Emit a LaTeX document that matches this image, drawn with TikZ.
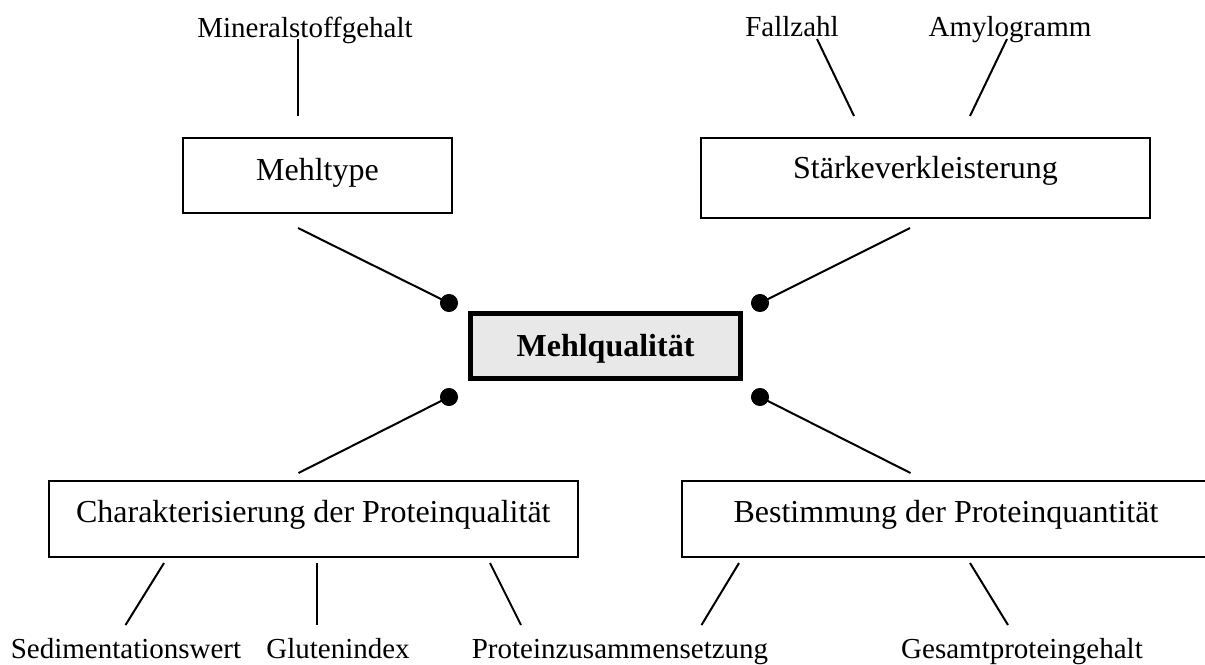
\documentclass[tikz,border=0pt]{standalone}
\usepackage{fontspec}
\setmainfont{Liberation Serif}
\begin{document}
\begin{tikzpicture}[x=0.75pt,y=-0.75pt,
  box/.style={draw, line width=1.5pt, rectangle, inner sep=0pt,
    font=\fontsize{24}{28}\selectfont, text height=16.8pt},
  leaf/.style={inner sep=0pt, anchor=base, font=\fontsize{21.75}{26}\selectfont},
  link/.style={line width=1.5pt},
  dot/.style={circle, fill=black, inner sep=0pt, minimum size=13.3pt},
  core/.style={draw, line width=4pt, inner sep=0pt, fill=black!9,
    font=\bfseries\fontsize{24}{28}\selectfont,
    minimum width=202.25pt, minimum height=48.5pt,
    text height=16.8pt, text depth=1.8pt}]
\useasboundingbox (0,0) rectangle (1205,664);

% central node with a speckled paper texture
\pgfmathsetseed{4711}
\node[core, path picture={
    \foreach \k in {1,...,520}{
      \fill[white, opacity=0.85] ({470+271*rnd},{313+66*rnd}) circle (1.3pt);
    }
    \foreach \k in {1,...,360}{
      \fill[black!22] ({470+271*rnd},{313+66*rnd}) circle (0.6pt);
    }
  }] (core) at (605.5,346) {Mehlqualität};

% corner dots
\node[dot] (dTL) at (449,303) {};
\node[dot] (dTR) at (760,303) {};
\node[dot] (dBL) at (449,397) {};
\node[dot] (dBR) at (760,397) {};

% first level boxes
\node[box, minimum width=201.75pt, minimum height=56.25pt, text depth=10pt]
  (typ) at (317.5,175.5) {Mehltype};
\node[box, minimum width=336.75pt, minimum height=60pt, text depth=16.3pt]
  (staerke) at (925.5,178) {Stärkeverkleisterung};
\node[box, minimum width=397pt, minimum height=57pt, text depth=12.3pt]
  (pqual) at (313.3,519) {Charakterisierung der Proteinqualität};
\node[box, minimum width=396pt, minimum height=57pt, text depth=12.3pt]
  (pquant) at (946,519) {Bestimmung der Proteinquantität};

% leaves
\node[leaf] (mineral) at (305,37) {Mineralstoffgehalt};
\node[leaf] (fallzahl) at (792,36) {Fallzahl};
\node[leaf] (amylo) at (1010,36) {Amylogramm};
\node[leaf] (sedi) at (126,658) {Sedimentationswert};
\node[leaf] (gluten) at (338,658) {Glutenindex};
\node[leaf] (pzus) at (620,658) {Proteinzusammensetzung};
\node[leaf] (gesamt) at (1022,658) {Gesamtproteingehalt};

% connector end points
\coordinate (typTop) at (298,116);   \coordinate (minBot) at (298,39);
\coordinate (typBot) at (298,228);
\coordinate (stTopA) at (854,116);   \coordinate (fzBot) at (817,39);
\coordinate (stTopB) at (970,116);   \coordinate (amBot) at (1007,39);
\coordinate (stBot) at (910,228);
\coordinate (pqTop) at (298.5,473);
\coordinate (pnTop) at (910.5,473);
\coordinate (pqA) at (164,563);      \coordinate (sdTop) at (125.5,625);
\coordinate (pqB) at (317,563);      \coordinate (glTop) at (317,625);
\coordinate (pqC) at (490,563);      \coordinate (pzTopA) at (521,625);
\coordinate (pnA) at (739,563);      \coordinate (pzTopB) at (701.5,625);
\coordinate (pnB) at (970,563);      \coordinate (gsTop) at (1008,625);

% connectors
\draw[link] (minBot) -- (typTop);
\draw[link] (fzBot) -- (stTopA);
\draw[link] (amBot) -- (stTopB);
\draw[link] (typBot) -- (dTL.center);
\draw[link] (stBot) -- (dTR.center);
\draw[link] (pqTop) -- (dBL.center);
\draw[link] (pnTop) -- (dBR.center);
\draw[link] (pqA) -- (sdTop);
\draw[link] (pqB) -- (glTop);
\draw[link] (pqC) -- (pzTopA);
\draw[link] (pnA) -- (pzTopB);
\draw[link] (pnB) -- (gsTop);

% redraw dots above line ends
\fill (dTL) circle (6.65pt);
\fill (dTR) circle (6.65pt);
\fill (dBL) circle (6.65pt);
\fill (dBR) circle (6.65pt);
\end{tikzpicture}
\end{document}
